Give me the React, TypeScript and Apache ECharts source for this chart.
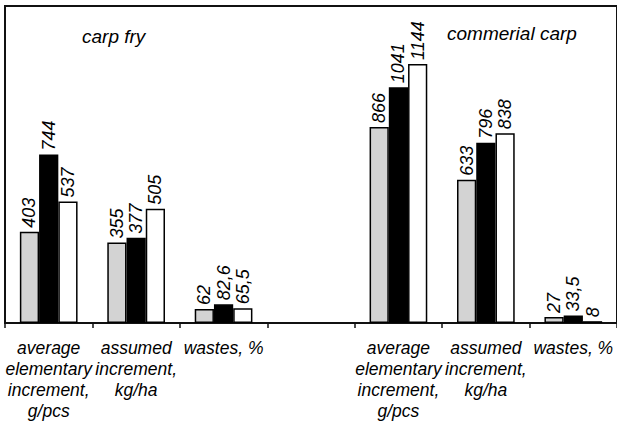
import React, { useEffect, useRef } from "react";
import * as echarts from "echarts";

const categories: string[] = [
  "average\nelementary\nincrement,\ng/pcs",
  "assumed\nincrement,\nkg/ha",
  "wastes, %",
  "",
  "average\nelementary\nincrement,\ng/pcs",
  "assumed\nincrement,\nkg/ha",
  "wastes, %",
];

// three variants per indicator (grey, black, white bars)
const variant1: (number | null)[] = [403, 355, 62, null, 866, 633, 27];
const variant2: (number | null)[] = [744, 377, 82.6, null, 1041, 796, 33.5];
const variant3: (number | null)[] = [537, 505, 65.5, null, 1144, 838, 8];

const groupTitles: string[] = ["carp fry", "commerial carp"];

const FONT = "'Liberation Sans', Arial, sans-serif";

export default function App() {
  const ref = useRef<HTMLDivElement>(null);

  useEffect(() => {
    if (!ref.current) return;
    const chart = echarts.init(ref.current, null, { renderer: "svg" });

    const labelCfg = {
      show: true,
      position: "top",
      rotate: 90,
      align: "left",
      verticalAlign: "middle",
      distance: 4,
      fontFamily: FONT,
      fontStyle: "italic",
      fontSize: 18,
      color: "#000",
      formatter: (p: any) => String(p.value).replace(".", ","),
    };

    const mk = (name: string, data: (number | null)[], color: string) => ({
      name,
      type: "bar",
      data,
      barGap: "0%",
      barCategoryGap: "34%",
      itemStyle: { color, borderColor: "#000", borderWidth: 1.5 },
      label: labelCfg,
    });

    chart.setOption({
      animation: false,
      backgroundColor: "#fff",
      grid: {
        left: 5,
        right: -2,
        top: 6,
        bottom: 104,
        show: true,
        borderColor: "#111",
        borderWidth: 2,
      },
      xAxis: {
        type: "category",
        data: categories,
        axisLine: { show: true, lineStyle: { color: "#111", width: 2 } },
        axisTick: { show: true, length: 5, interval: 0, lineStyle: { color: "#111", width: 1.5 } },
        axisLabel: {
          interval: 0,
          margin: 14,
          fontFamily: FONT,
          fontStyle: "italic",
          fontSize: 17.5,
          lineHeight: 21,
          color: "#000",
        },
      },
      yAxis: {
        type: "value",
        min: 0,
        max: 1400,
        show: false,
        splitLine: { show: false },
      },
      series: [
        mk("Variant 1", variant1, "#d3d3d3"),
        mk("Variant 2", variant2, "#000000"),
        mk("Variant 3", variant3, "#ffffff"),
      ],
      graphic: [
        {
          type: "text",
          left: 82,
          top: 27,
          style: {
            text: groupTitles[0],
            font: `italic 19px ${FONT}`,
            fill: "#000",
          },
        },
        {
          type: "text",
          left: 447,
          top: 24,
          style: {
            text: groupTitles[1],
            font: `italic 19px ${FONT}`,
            fill: "#000",
          },
        },
      ],
    });

    return () => chart.dispose();
  }, []);

  return (
    <div
      ref={ref}
      style={{ position: "absolute", left: 0, top: 0, width: 617, height: 427 }}
    />
  );
}
